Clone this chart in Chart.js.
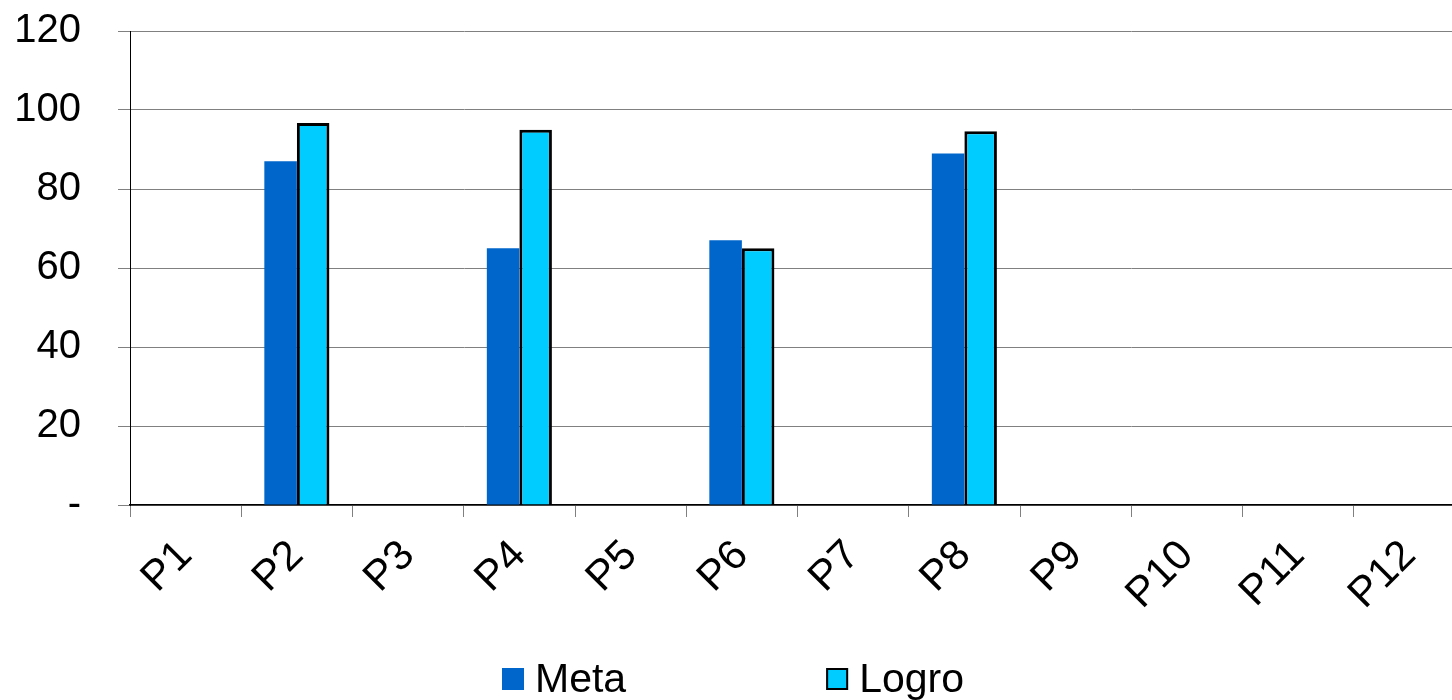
<!DOCTYPE html>
<html>
<head>
<meta charset="utf-8">
<title>Meta vs Logro</title>
<script src="https://cdn.jsdelivr.net/npm/chart.js@4/dist/chart.umd.min.js"></script>
<style>
  html, body { margin: 0; padding: 0; background: #fff; overflow: hidden; }
  #wrap { width: 1466px; height: 700px; }
</style>
</head>
<body>
<div id="wrap"><canvas id="chart" width="1466" height="700"></canvas></div>
<script>
// Periods on the horizontal axis
const periods = ['P1', 'P2', 'P3', 'P4', 'P5', 'P6', 'P7', 'P8', 'P9', 'P10', 'P11', 'P12'];
// Target per period (null = not reported)
const meta = [null, 87, null, 65, null, 67, null, 89, null, null, null, null];
// Achieved per period
const logro = [null, 96.7, null, 95, null, 65, null, 94.6, null, null, null, null];
// Vertical axis range
const yTicks = [0, 20, 40, 60, 80, 100, 120];

const FONT = "'Liberation Sans', Arial, sans-serif";

// Legend drawn as a single centered row under the axis labels
const bottomLegend = {
  id: 'bottomLegend',
  afterDraw(chart) {
    const ctx = chart.ctx;
    const box = 22, gapText = 11, gapItems = 200, size = 41;
    ctx.save();
    ctx.font = size + 'px ' + FONT;
    ctx.textBaseline = 'middle';
    ctx.textAlign = 'left';
    const items = chart.data.datasets.map(ds => ({
      text: ds.label, fill: ds.backgroundColor, stroke: ds.borderWidth ? ds.borderColor : null,
      w: box + gapText + ctx.measureText(ds.label).width
    }));
    const total = items.reduce((s, it) => s + it.w, 0) + gapItems * (items.length - 1);
    let x = (chart.width - total) / 2;
    const cy = 679;
    items.forEach(it => {
      ctx.fillStyle = it.fill;
      ctx.fillRect(x, cy - box / 2, box, box);
      if (it.stroke) {
        ctx.lineWidth = 2;
        ctx.strokeStyle = it.stroke;
        ctx.strokeRect(x + 1, cy - box / 2 + 1, box - 2, box - 2);
      }
      ctx.fillStyle = '#000';
      ctx.fillText(it.text, x + box + gapText, cy + 2);
      x += it.w + gapItems;
    });
    ctx.restore();
  }
};

new Chart(document.getElementById('chart'), {
  type: 'bar',
  data: {
    labels: periods,
    datasets: [
      { label: 'Meta', data: meta, backgroundColor: '#0066CC', borderWidth: 0 },
      { label: 'Logro', data: logro, backgroundColor: '#00CCFF', borderColor: '#000000', borderWidth: 3 }
    ]
  },
  options: {
    responsive: false,
    animation: false,
    devicePixelRatio: 1,
    layout: { padding: { top: 31, bottom: 60, left: 0, right: 1 } },
    datasets: { bar: { barPercentage: 1, categoryPercentage: 0.585, skipNull: false } },
    plugins: {
      legend: { display: false },
      tooltip: { enabled: false }
    },
    scales: {
      x: {
        afterFit(scale) { scale.height = 135; },
        grid: { offset: true, drawOnChartArea: false, drawTicks: true, tickLength: 12, color: '#808080' },
        border: { display: true, color: '#000000', width: 1.5 },
        ticks: {
          autoSkip: false, maxRotation: 45, minRotation: 45, padding: 14,
          color: '#000', font: { family: FONT, size: 42 }
        }
      },
      y: {
        min: yTicks[0],
        max: yTicks[yTicks.length - 1],
        afterFit(scale) {
          scale.width = 130;
          // keep the plot top at the layout padding; end labels fit in the margins
          scale.paddingTop = 0;
          scale.paddingBottom = 0;
        },
        afterBuildTicks(scale) { scale.ticks = yTicks.map(v => ({ value: v })); },
        grid: { color: '#808080', tickLength: 12, lineWidth: 1 },
        border: { display: true, color: '#000000', width: 1 },
        ticks: {
          padding: 37, color: '#000', font: { family: FONT, size: 40 },
          callback: v => (v === 0 ? '-' : v)
        }
      }
    }
  },
  plugins: [bottomLegend]
});
</script>
</body>
</html>
